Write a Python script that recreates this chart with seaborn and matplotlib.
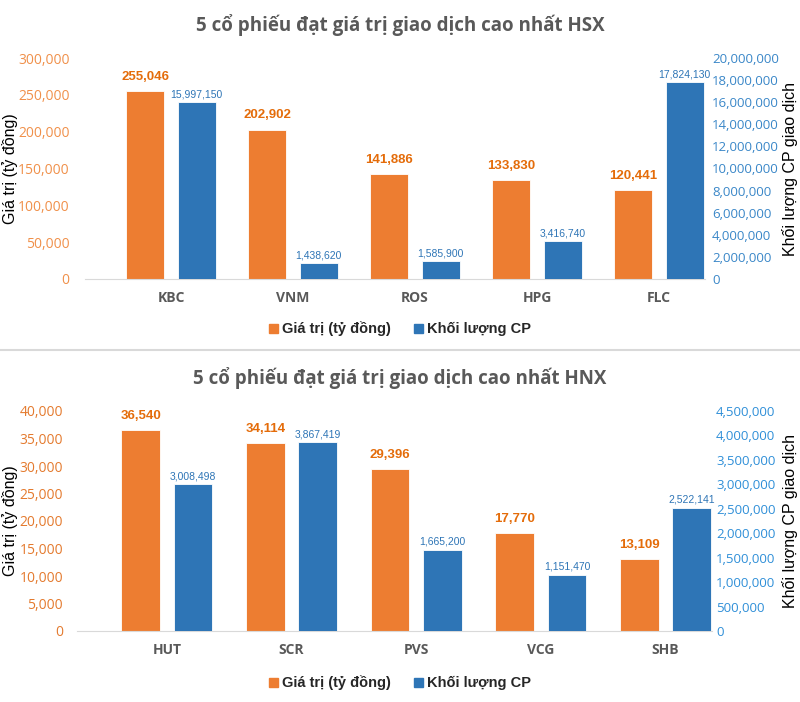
import matplotlib
matplotlib.use("Agg")
import matplotlib.pyplot as plt
import seaborn as sns
import pandas as pd
from matplotlib.patches import Patch
from matplotlib.lines import Line2D
from matplotlib.ticker import FuncFormatter

sns.set_style("white")
plt.rcParams['font.family'] = ['Open Sans', 'DejaVu Sans']

# HSX
hsx_codes = ["KBC", "VNM", "ROS", "HPG", "FLC"]
hsx_value = [255046, 202902, 141886, 133830, 120441]
hsx_volume = [15997150, 1438620, 1585900, 3416740, 17824130]

# HNX
hnx_codes = ["HUT", "SCR", "PVS", "VCG", "SHB"]
hnx_value = [36540, 34114, 29396, 17770, 13109]
hnx_volume = [3008498, 3867419, 1665200, 1151470, 2522141]

series = ["Giá trị (tỷ đồng)", "Khối lượng CP"]
titles = ["5 cổ phiếu đạt giá trị giao dịch cao nhất HSX",
          "5 cổ phiếu đạt giá trị giao dịch cao nhất HNX"]
ylabel_left = "Giá trị (tỷ đồng)"
ylabel_right = "Khối lượng CP giao dịch"

ORANGE = "#ED7D31"
BLUE = "#2E75B6"
GRAY = "#595959"
ARIAL = ['Liberation Sans', 'DejaVu Sans']

W, H = 800, 702
fig = plt.figure(figsize=(W / 100, H / 100), dpi=100)
comma = FuncFormatter(lambda v, p: f"{v:,.0f}")


def fy(y):
    return (H - y) / H


def panel(x0, x1, ytop, ybot, xlim, codes, values, volumes, lmax, lstep, rmax, rstep,
          title, title_y, legend_y, lcol, rcol, lpad, rpad, ylab_x, ylab2_x):
    ax = fig.add_axes([x0 / W, fy(ybot), (x1 - x0) / W, (ybot - ytop) / H])
    ax2 = ax.twinx()

    df_l = pd.DataFrame({"code": codes, "series": series[0], "value": values})
    df_r = pd.DataFrame({"code": codes, "series": series[1], "value": volumes})
    kw = dict(x="code", y="value", hue="series", hue_order=series, order=codes,
              palette=[ORANGE, BLUE], width=0.84, gap=0.26, dodge=True, legend=False,
              saturation=1, errorbar=None, edgecolor="white", linewidth=0.6)
    sns.barplot(data=df_l, ax=ax, **kw)
    sns.barplot(data=df_r, ax=ax2, **kw)

    c1 = [c for c in ax.containers if len(c)][0]
    c2 = [c for c in ax2.containers if len(c)][0]
    ax.bar_label(c1, fmt="{:,.0f}", padding=6, color="#E46C0A", fontsize=9.5,
                 fontweight="bold", family=ARIAL)
    ax2.bar_label(c2, fmt="{:,.0f}", padding=2, color=BLUE, fontsize=7.5, family=ARIAL)

    ax.set_xlim(*xlim)
    ax.set_ylim(0, lmax)
    ax.set_yticks(range(0, lmax + 1, lstep))
    ax.yaxis.set_major_formatter(comma)
    ax2.set_ylim(0, rmax)
    ax2.set_yticks(range(0, rmax + 1, rstep))
    ax2.yaxis.set_major_formatter(comma)

    ax.tick_params(axis='y', length=0, pad=lpad, labelcolor=lcol, labelsize=10)
    ax2.tick_params(axis='y', length=0, pad=rpad, labelcolor=rcol, labelsize=9.5)
    ax.tick_params(axis='x', length=0, pad=9, labelcolor=GRAY, labelsize=10)
    for t in ax.get_xticklabels():
        t.set_fontweight("bold")

    for a in (ax, ax2):
        a.set_xlabel("")
        a.set_ylabel("")
        for s in a.spines.values():
            s.set_visible(False)
    ax.spines['bottom'].set_visible(True)
    ax.spines['bottom'].set_color("#D9D9D9")
    ax.grid(False)
    ax2.grid(False)

    fig.text(0.5, fy(title_y), title, ha="center", va="center", fontsize=13.5,
             fontweight="bold", color=GRAY)
    mid = fy((ytop + ybot) / 2)
    fig.text(ylab_x / W, mid, ylabel_left, rotation=90, ha="center", va="center",
             fontsize=11.5, family=ARIAL, color="black")
    fig.text(ylab2_x / W, mid, ylabel_right, rotation=90, ha="center", va="center",
             fontsize=11.5, family=ARIAL, color="black")

    handles = [Patch(color=ORANGE, label=series[0]), Patch(color=BLUE, label=series[1])]
    fig.legend(handles=handles, loc="center", bbox_to_anchor=(0.5, fy(legend_y)), ncol=2,
               frameon=False, handlelength=0.6, handleheight=0.6, handletextpad=0.3,
               columnspacing=1.6, prop=dict(family=ARIAL, weight="bold", size=10.5))


panel(85, 705, 58, 279, (-0.705, 4.377), hsx_codes, hsx_value, hsx_volume,
      300000, 50000, 20000000, 2000000, titles[0], 25, 329,
      "#F0904A", "#3A87C8", 11, 5, 10, 790)
panel(77, 712, 411, 631, (-0.722, 4.374), hnx_codes, hnx_value, hnx_volume,
      40000, 5000, 4500000, 500000, titles[1], 378, 683,
      "#E47A2E", "#2F8FD8", 10, 3, 10, 790)

fig.add_artist(Line2D([0, 1], [fy(350), fy(350)], transform=fig.transFigure,
                      color="#D9D9D9", lw=1.5))

fig.savefig("out.png", dpi=100, facecolor="white")
